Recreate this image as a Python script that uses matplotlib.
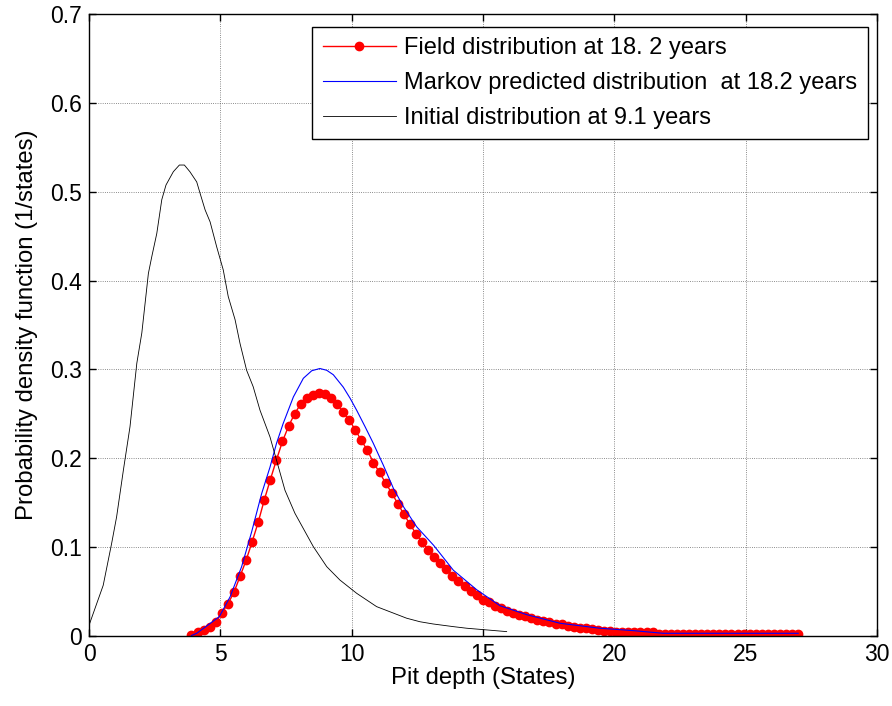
"""Field vs Markov-predicted pit depth distributions (MATLAB-style figure)."""

import numpy as np
import matplotlib
matplotlib.use('Agg')
import matplotlib.pyplot as plt

plt.rcParams['font.family'] = ['Liberation Sans', 'DejaVu Sans']

# Field distribution at 18.2 years: regular state grid
field_x = np.linspace(3.9, 27.0, 101)
field_y = [
    0.001, 0.004, 0.007, 0.0105, 0.016, 0.026, 0.036, 0.049, 0.067, 0.085,
    0.106, 0.128, 0.153, 0.176, 0.198, 0.219, 0.236, 0.250, 0.261, 0.268,
    0.271, 0.273, 0.272, 0.268, 0.261, 0.252, 0.243, 0.232, 0.220, 0.209,
    0.195, 0.184, 0.172, 0.161, 0.149, 0.137, 0.126, 0.115, 0.106, 0.097,
    0.089, 0.082, 0.075, 0.068, 0.062, 0.056, 0.051, 0.046, 0.041, 0.038,
    0.034, 0.031, 0.0285, 0.026, 0.0236, 0.022, 0.020, 0.018, 0.0172, 0.016,
    0.014, 0.013, 0.0115, 0.010, 0.009, 0.0086, 0.0075, 0.0065, 0.006, 0.0055,
    0.005, 0.0045, 0.0045, 0.0045, 0.0045, 0.0045, 0.0045, 0.002, 0.002, 0.002,
    0.002, 0.002, 0.002, 0.002, 0.002, 0.002, 0.002, 0.002, 0.002, 0.002,
    0.002, 0.002, 0.002, 0.002, 0.002, 0.002, 0.002, 0.002, 0.002, 0.002,
    0.002,
]

# Markov predicted distribution at 18.2 years
markov_x = [3.9, 4.1, 4.96, 5.37, 5.81, 6.19, 6.57, 6.89, 7.14, 7.39, 7.78, 8.16,
            8.48, 8.79, 9.05, 9.30, 9.68, 9.94, 10.19, 10.51, 10.82, 11.2, 11.59,
            11.97, 12.47, 13.12, 13.87, 14.76, 15.65, 16.66, 17.93, 19.45, 20.72,
            21.86, 27.0]
markov_y = [0.0005, 0.003, 0.0217, 0.044, 0.078, 0.117, 0.160, 0.190, 0.217, 0.239,
            0.269, 0.290, 0.2985, 0.301, 0.299, 0.294, 0.280, 0.2675, 0.254, 0.2355,
            0.217, 0.1925, 0.166, 0.1455, 0.123, 0.102, 0.074, 0.052, 0.034, 0.024,
            0.0143, 0.0087, 0.006, 0.003, 0.003]

# Initial distribution at 9.1 years
initial_x = [0.0, 0.54, 0.86, 1.05, 1.31, 1.56, 1.82, 2.01, 2.26, 2.39, 2.58, 2.77,
             2.93, 3.21, 3.44, 3.63, 3.84, 4.10, 4.23, 4.42, 4.61, 4.86, 5.11, 5.30,
             5.56, 5.75, 6.0, 6.25, 6.51, 6.89, 7.46, 7.84, 8.54, 9.05, 9.55, 10.19,
             10.95, 12.09, 12.6, 13.1, 13.87, 14.38, 15.14, 15.9]
initial_y = [0.012, 0.057, 0.104, 0.134, 0.187, 0.2355, 0.307, 0.341, 0.408, 0.427,
             0.453, 0.491, 0.5075, 0.5225, 0.530, 0.530, 0.5225, 0.511, 0.498, 0.4795,
             0.466, 0.438, 0.412, 0.382, 0.356, 0.329, 0.299, 0.2805, 0.254, 0.224,
             0.164, 0.138, 0.1005, 0.078, 0.063, 0.048, 0.033, 0.020, 0.016, 0.0135,
             0.0105, 0.0087, 0.0068, 0.0049]

fig = plt.figure(figsize=(8.92, 7.06), dpi=100)
ax = fig.add_axes([0.0998, 0.0992, 0.8834, 0.881])

ax.plot(field_x, field_y, color='red', linewidth=1.0, marker='o', markersize=6,
        markeredgecolor='red', markerfacecolor='red',
        label='Field distribution at 18. 2 years')
ax.plot(markov_x, markov_y, color='blue', linewidth=0.8,
        label='Markov predicted distribution  at 18.2 years')
ax.plot(initial_x, initial_y, color='black', linewidth=0.6,
        label='Initial distribution at 9.1 years')

ax.set_xlim(0, 30)
ax.set_ylim(0, 0.7)
ax.set_xticks(np.arange(0, 31, 5))
ax.set_yticks(np.arange(0, 0.71, 0.1))
ax.set_yticklabels(['0', '0.1', '0.2', '0.3', '0.4', '0.5', '0.6', '0.7'])
ax.grid(True, color='black', linestyle=':', linewidth=0.6, alpha=0.6)
ax.tick_params(direction='in', top=True, right=True, labelsize=16.5, length=5,
               width=1, pad=5)
for spine in ax.spines.values():
    spine.set_linewidth(1.0)

ax.set_xlabel('Pit depth (States)', fontsize=17.2, labelpad=1)
ax.set_ylabel('Probability density function (1/states)', fontsize=17.2, labelpad=9)

leg = ax.legend(loc='upper right', bbox_to_anchor=(0.988, 0.9796), fontsize=17,
                fancybox=False, framealpha=1, edgecolor='black', borderaxespad=0,
                handlelength=3.08, handletextpad=0.35, labelspacing=0.54,
                borderpad=0.45)
leg.get_frame().set_linewidth(1.0)

plt.savefig('out.png', dpi=100)
